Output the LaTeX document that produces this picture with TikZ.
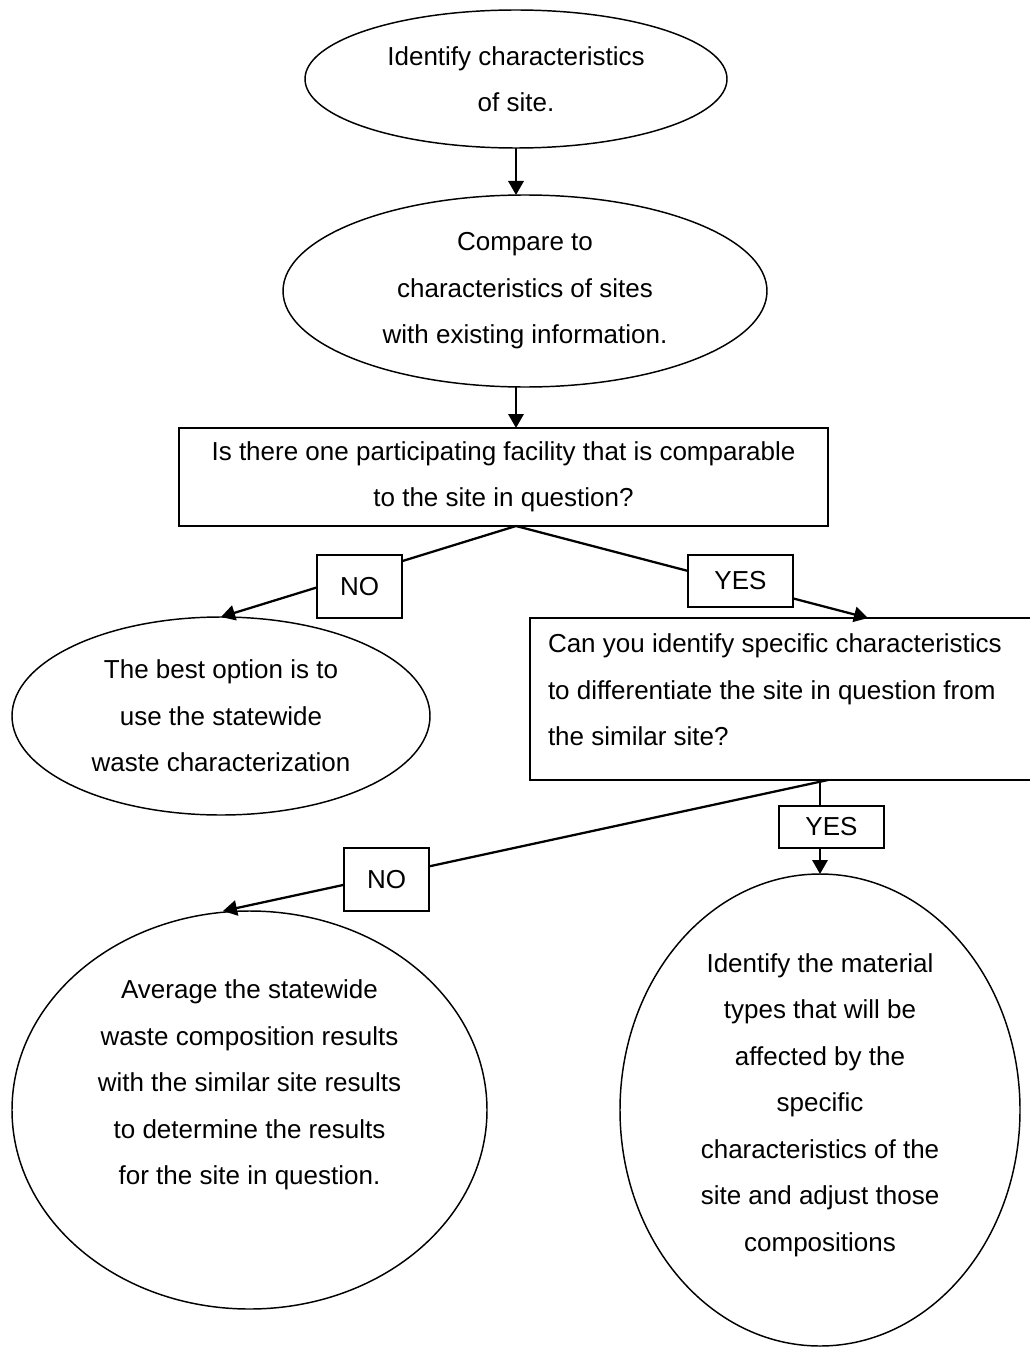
\documentclass[tikz,border=0pt]{standalone}
\usepackage{fontspec}
\setmainfont{Liberation Sans}
\usetikzlibrary{arrows.meta,shapes.geometric}
\begin{document}
\begin{tikzpicture}[x=0.75pt,y=-0.75pt,
  every node/.style={font=\fontsize{19.5pt}{34.9pt}\selectfont, inner sep=0pt, outer sep=0pt},
  ell/.style={draw, ellipse, line width=1.1pt, align=center},
  box/.style={draw, rectangle, line width=1.2pt, align=center},
  lbl/.style={draw, rectangle, line width=1.2pt, fill=white},
  conn/.style={line width=1.7pt, -{Triangle[length=10.5pt,width=11.5pt]}},
  plain/.style={line width=1.7pt}]
\useasboundingbox (0,0) rectangle (1029,1348);

% shapes
\node[ell, minimum width=316.5pt, minimum height=103.5pt] (e1) at (516,79)
  {Identify characteristics\\of site.};
\node[ell, minimum width=363pt, minimum height=144pt] (e2) at (525,291)
  {Compare to\\characteristics of sites\\with existing information.};
\node[box, minimum width=486.75pt, minimum height=73.5pt] (r1) at (503.5,477)
  {Is there one participating facility that is comparable\\to the site in question?};
\node[ell, minimum width=313.5pt, minimum height=148.5pt] (e3) at (221,716)
  {The best option is to\\use the statewide\\waste characterization};
\node[draw, rectangle, line width=1.2pt, minimum width=376.5pt, minimum height=121.5pt] (r2) at (781,699) {};
\node[anchor=west, align=left] (r2t) at (548,690)
  {Can you identify specific characteristics\\to differentiate the site in question from\\the similar site?};
\node[ell, minimum width=356.25pt, minimum height=298.5pt] (e4) at (249.5,1110) {};
\node[align=center] (e4t) at (249.5,1085)
  {Average the statewide\\waste composition results\\with the similar site results\\to determine the results\\for the site in question.};
\node[ell, minimum width=300pt, minimum height=354pt] (e5) at (820,1110) {};
\node[align=center] (e5t) at (820,1105)
  {Identify the material\\types that will be\\affected by the\\specific\\characteristics of the\\site and adjust those\\compositions};

% connector end points
\coordinate (r1b) at (516,526);
\coordinate (r2in) at (868,618);
\coordinate (r2b) at (828,780);
\coordinate (r2c) at (820,780);
\coordinate (e4in) at (223,911);

% connectors
\draw[conn] (e1.south) -- (e1.south |- e2.north);
\draw[conn] (e1.south |- e2.south) -- (e1.south |- r1.north);
\draw[conn] (r1b) -- (e3.north);
\draw[conn] (r1b) -- (r2in);
\draw[conn] (r2b) -- (e4in);
\draw[conn] (r2c) -- (e5.north);

% label boxes
\node[lbl, minimum width=63.75pt, minimum height=47.25pt] (no1) at (359.5,586.5) {NO};
\node[lbl, minimum width=78.75pt, minimum height=39pt] (yes1) at (740.5,581) {YES};
\node[lbl, minimum width=63.75pt, minimum height=47.25pt] (no2) at (386.5,879.5) {NO};
\node[lbl, minimum width=78.75pt, minimum height=31.5pt] (yes2) at (831.5,827) {YES};
\end{tikzpicture}
\end{document}
